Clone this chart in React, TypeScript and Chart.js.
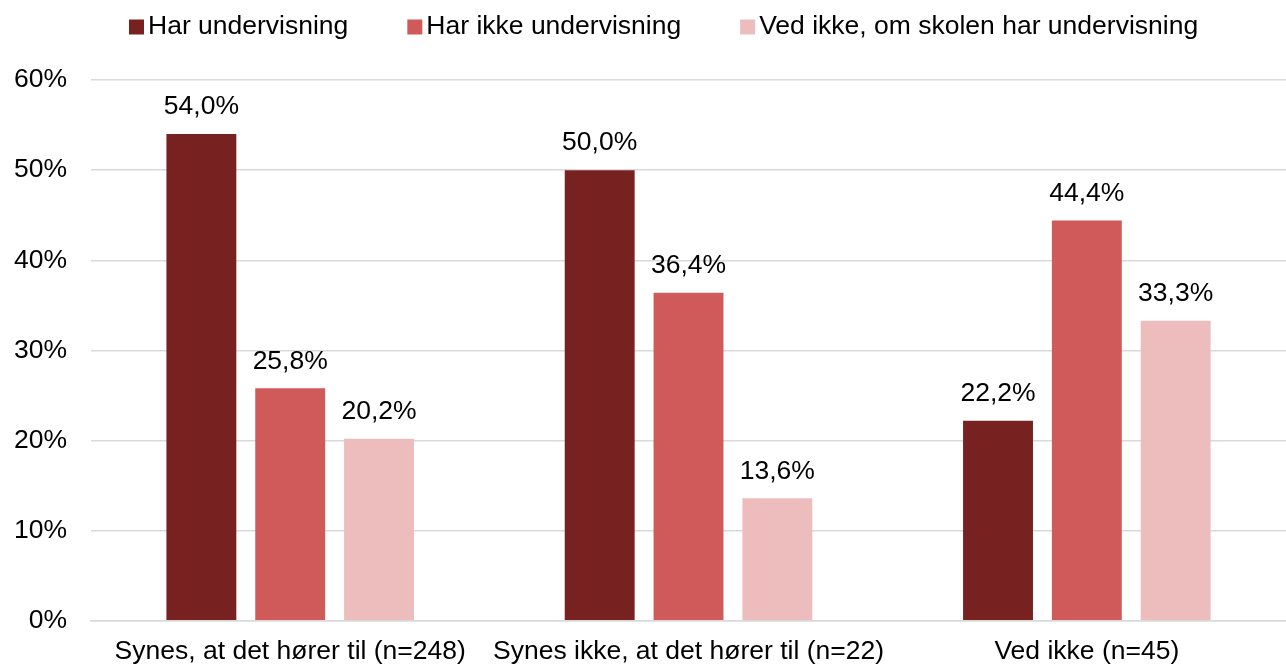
import React, { useEffect, useRef } from "react";
import { Chart, registerables } from "chart.js";

Chart.register(...registerables);

const categories = [
  "Synes, at det hører til (n=248)",
  "Synes ikke, at det hører til (n=22)",
  "Ved ikke (n=45)",
];
const seriesNames = [
  "Har undervisning",
  "Har ikke undervisning",
  "Ved ikke, om skolen har undervisning",
];
const harUndervisning = [54.0, 50.0, 22.2];
const harIkkeUndervisning = [25.8, 36.4, 44.4];
const vedIkke = [20.2, 13.6, 33.3];
const seriesColors = ["#772221", "#D05A59", "#EDBDBE"];
const yTicks = [0, 10, 20, 30, 40, 50, 60];

const FONT = "'Liberation Sans', Arial, sans-serif";
const FS = 26.5;

const valueLabels = {
  id: "valueLabels",
  afterDatasetsDraw(chart: any) {
    const ctx = chart.ctx;
    ctx.save();
    ctx.font = `${FS}px ${FONT}`;
    ctx.fillStyle = "#000";
    ctx.textAlign = "center";
    ctx.textBaseline = "middle";
    chart.data.datasets.forEach((ds: any, i: number) => {
      const meta = chart.getDatasetMeta(i);
      meta.data.forEach((bar: any, j: number) => {
        const v = ds.data[j] as number;
        const txt = v.toFixed(1).replace(".", ",") + "%";
        ctx.fillText(txt, bar.x, bar.y - 27);
      });
    });
    ctx.restore();
  },
};

const customLegend = {
  id: "customLegend",
  afterDraw(chart: any) {
    const ctx = chart.ctx;
    ctx.save();
    ctx.font = `${FS}px ${FONT}`;
    ctx.textBaseline = "middle";
    ctx.textAlign = "left";
    let x = 129;
    const y = 27;
    chart.data.datasets.forEach((ds: any) => {
      ctx.fillStyle = ds.backgroundColor;
      ctx.fillRect(x, y - 7.5, 15, 15);
      ctx.fillStyle = "#000";
      ctx.fillText(ds.label, x + 19, y);
      x += 19 + ctx.measureText(ds.label).width + 59;
    });
    ctx.restore();
  },
};

export default function App() {
  const ref = useRef<HTMLCanvasElement | null>(null);
  useEffect(() => {
    if (!ref.current) return;
    const data = [harUndervisning, harIkkeUndervisning, vedIkke];
    const chart = new Chart(ref.current, {
      type: "bar",
      data: {
        labels: categories,
        datasets: seriesNames.map((name, i) => ({
          label: name,
          data: data[i],
          backgroundColor: seriesColors[i],
          borderWidth: 0,
          categoryPercentage: 0.669,
          barPercentage: 0.787,
        })),
      },
      options: {
        animation: false,
        responsive: false,
        maintainAspectRatio: false,
        layout: { padding: { top: 80, left: -10, right: 0, bottom: -14 } },
        plugins: {
          legend: { display: false },
          tooltip: { enabled: false },
        },
        scales: {
          x: {
            grid: { display: false, drawTicks: false },
            border: { display: true, color: "#D9D9D9", width: 1.5 },
            ticks: {
              color: "#000",
              font: { family: FONT, size: FS, lineHeight: 1.1 },
              padding: 16,
              maxRotation: 0,
              autoSkip: false,
            },
          },
          y: {
            min: 0,
            max: 60,
            afterBuildTicks(axis: any) {
              axis.ticks = yTicks.map((v) => ({ value: v }));
            },
            grid: { color: "#D9D9D9", lineWidth: 1.5, drawTicks: false },
            border: { display: false },
            ticks: {
              color: "#000",
              font: { family: FONT, size: FS },
              padding: 24,
              callback: (v: any) => `${v}%`,
            },
          },
        },
      },
      plugins: [valueLabels, customLegend],
    });
    return () => chart.destroy();
  }, []);
  return (
    <div style={{ position: "fixed", left: 0, top: 0, width: 1286, height: 668, background: "#fff" }}>
      <canvas ref={ref} width={1286} height={668} style={{ display: "block" }} />
    </div>
  );
}
